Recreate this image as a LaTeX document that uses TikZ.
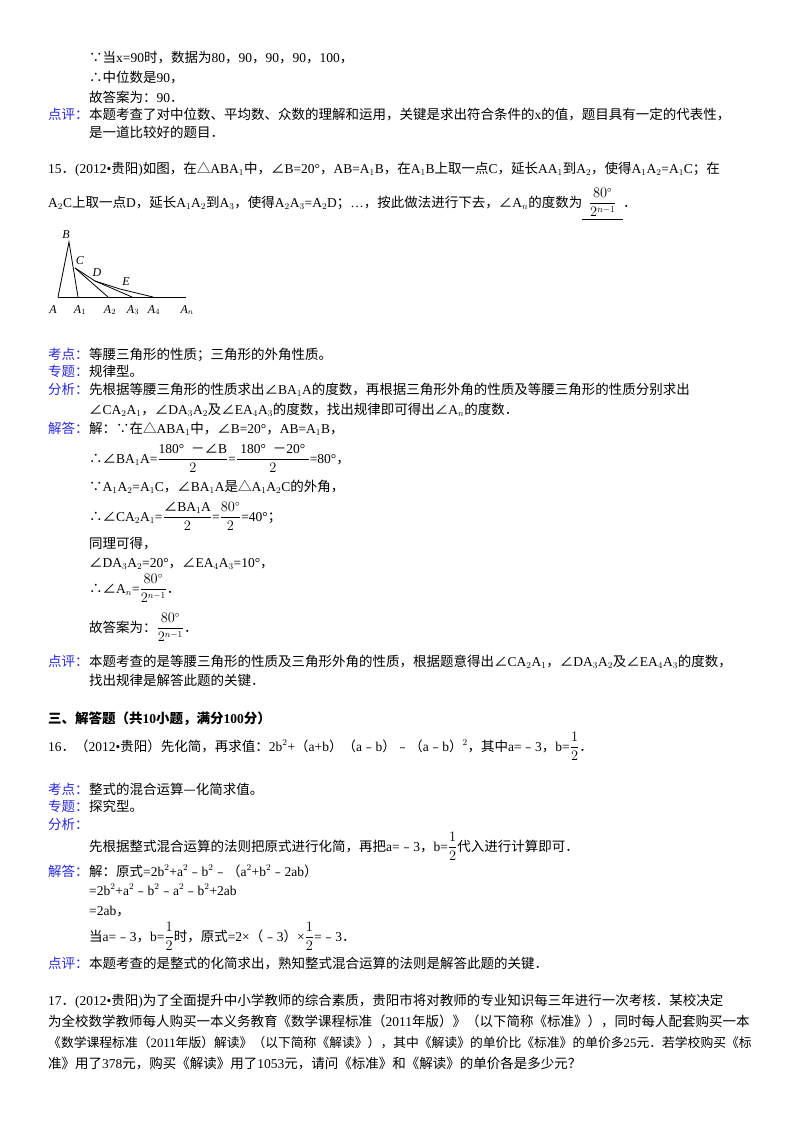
\documentclass[tikz,border=0pt]{standalone}
\usepackage{amsmath}
\usepackage{fontspec}
\setmainfont{Liberation Serif}
\newfontfamily\cjk{Noto Sans CJK SC}
\newfontfamily\latn{Liberation Serif}
\newXeTeXintercharclass\cjkclass
\newcount\cc
\def\setcls#1#2{\cc=#1\relax\loop\XeTeXcharclass\cc=\cjkclass\advance\cc by 1\ifnum\cc<#2\repeat}
\setcls{"2200}{"2300}
\setcls{"25A0}{"2600}
\setcls{"3000}{"9FFF}
\setcls{"FE30}{"FE70}
\setcls{"FF00}{"FFEF}
\XeTeXcharclass"2014=\cjkclass
\XeTeXinterchartoks 0 \cjkclass = {\cjk}
\XeTeXinterchartoks 4095 \cjkclass = {\cjk}
\XeTeXinterchartoks \cjkclass 0 = {\latn}
\XeTeXinterchartoks \cjkclass 4095 = {\latn}
\XeTeXinterchartokenstate=1
\definecolor{lab}{RGB}{40,40,220}
\tikzset{
 t/.style={anchor=base west,inner sep=0pt,font=\fontsize{13.5}{16}\selectfont},
 lb/.style={t,text=lab},
 fl/.style={font=\itshape\fontsize{12}{14}\selectfont,inner sep=0pt}
}
\begin{document}
\begin{tikzpicture}[x=1pt,y=-1pt]
\useasboundingbox (0,0) rectangle (800,1132);
\node[t] (l1) at (89,63) {∵当x=90时，数据为80，90，90，90，100，};
\node[t] (l2) at (89,82) {∴中位数是90，};
\node[t] (l3) at (89,102) {故答案为：90．};
\node[lb] (k0) at (48,119) {点评：};
\node[t] (l4) at (89,119) {本题考查了对中位数、平均数、众数的理解和运用，关键是求出符合条件的x的值，题目具有一定的代表性，};
\node[t] (l5) at (89,137) {是一道比较好的题目．};
\node[t] (q15a) at (48,173) {15．(2012•贵阳)如图，在△ABA$_1$中，∠B=20°，AB=A$_1$B，在A$_1$B上取一点C，延长AA$_1$到A$_2$，使得A$_1$A$_2$=A$_1$C；在};
\node[t] (q15b) at (48,207) {A$_2$C上取一点D，延长A$_1$A$_2$到A$_3$，使得A$_2$A$_3$=A$_2$D；…，按此做法进行下去，∠A$_n$的度数为\underline{\ \ $\dfrac{80^\circ}{2^{n-1}}$\ \ }．};
% figure
\coordinate (A) at (58,297); \coordinate (B) at (69,242); \coordinate (A1) at (78,297);
\coordinate (C) at (75,268); \coordinate (A2) at (108,297); \coordinate (D) at (95,281);
\coordinate (A3) at (132,297); \coordinate (E) at (120,289); \coordinate (A4) at (153,297);
\coordinate (An) at (186,297);
\draw[line width=0.8pt] (A) -- (B) -- (A1);
\draw[line width=0.8pt] (A) -- (An);
\draw[line width=0.8pt] (C) -- (A2);
\draw[line width=0.8pt] (C) -- (D) -- (A3);
\draw[line width=0.8pt] (D) -- (E) -- (A4);
\node[fl] (nB) at (66,235) {B};
\node[fl] (nC) at (80,261) {C};
\node[fl] (nD) at (97,273) {D};
\node[fl] (nE) at (126,282) {E};
\node[fl] (nA) at (53,310) {A};
\node[fl] (nA1) at (80,310) {A$_1$};
\node[fl] (nA2) at (110,310) {A$_2$};
\node[fl] (nA3) at (133,310) {A$_3$};
\node[fl] (nA4) at (154,310) {A$_4$};
\node[fl] (nAn) at (187,310) {A$_n$};
\node[lb] (k1) at (48,359) {考点：};
\node[t] (s1) at (89,359) {等腰三角形的性质；三角形的外角性质。};
\node[lb] (k2) at (48,376) {专题：};
\node[t] (s2) at (89,376) {规律型。};
\node[lb] (k3) at (48,394) {分析：};
\node[t] (s3) at (89,394) {先根据等腰三角形的性质求出∠BA$_1$A的度数，再根据三角形外角的性质及等腰三角形的性质分别求出};
\node[t] (s4) at (89,414) {∠CA$_2$A$_1$，∠DA$_3$A$_2$及∠EA$_4$A$_3$的度数，找出规律即可得出∠A$_n$的度数．};
\node[lb] (k4) at (48,433) {解答：};
\node[t] (s5) at (89,433) {解：∵在△ABA$_1$中，∠B=20°，AB=A$_1$B，};
\node[t] (s6) at (89,463) {∴∠BA$_1$A=$\dfrac{\mbox{180°\ \ －∠B}}{2}$=$\dfrac{\mbox{\ 180°\ \ －20°\ }}{2}$=80°，};
\node[t] (s7) at (89,491) {∵A$_1$A$_2$=A$_1$C，∠BA$_1$A是△A$_1$A$_2$C的外角，};
\node[t] (s8) at (89,521) {∴∠CA$_2$A$_1$=$\dfrac{\mbox{∠BA$_1$A}}{2}$=$\dfrac{80^\circ}{2}$=40°；};
\node[t] (s9) at (89,548) {同理可得，};
\node[t] (s10) at (89,567) {∠DA$_3$A$_2$=20°，∠EA$_4$A$_3$=10°，};
\node[t] (s11) at (89,593) {∴∠A$_n$=$\dfrac{80^\circ}{2^{n-1}}$．};
\node[t] (s12) at (89,632) {故答案为：$\dfrac{80^\circ}{2^{n-1}}$．};
\node[lb] (k5) at (48,666) {点评：};
\node[t] (s13) at (89,666) {本题考查的是等腰三角形的性质及三角形外角的性质，根据题意得出∠CA$_2$A$_1$，∠DA$_3$A$_2$及∠EA$_4$A$_3$的度数，};
\node[t] (s14) at (89,685) {找出规律是解答此题的关键．};
\node[t,font=\bfseries\fontsize{13.5}{16}\selectfont] (h3) at (48,723) {三、解答题（共10小题，满分100分）};
\node[t] (q16) at (48,751) {16．（2012•贵阳）先化简，再求值：2b$^2$+（a+b）（a﹣b）﹣（a﹣b）$^2$，其中a=﹣3，b=$\dfrac{1}{2}$．};
\node[lb] (k6) at (48,794) {考点：};
\node[t] (u1) at (89,794) {整式的混合运算—化简求值。};
\node[lb] (k7) at (48,811) {专题：};
\node[t] (u2) at (89,811) {探究型。};
\node[lb] (k8) at (48,829) {分析：};
\node[t] (u3) at (89,851) {先根据整式混合运算的法则把原式进行化简，再把a=﹣3，b=$\dfrac{1}{2}$代入进行计算即可．};
\node[lb] (k9) at (48,876) {解答：};
\node[t] (u4) at (89,876) {解：原式=2b$^2$+a$^2$﹣b$^2$﹣（a$^2$+b$^2$﹣2ab）};
\node[t] (u5) at (89,895) {=2b$^2$+a$^2$﹣b$^2$﹣a$^2$﹣b$^2$+2ab};
\node[t] (u6) at (89,915) {=2ab，};
\node[t] (u7) at (89,941) {当a=﹣3，b=$\dfrac{1}{2}$时，原式=2×（﹣3）×$\dfrac{1}{2}$=﹣3．};
\node[lb] (k10) at (48,968) {点评：};
\node[t] (u8) at (89,968) {本题考查的是整式的化简求出，熟知整式混合运算的法则是解答此题的关键．};
\node[t] (q17a) at (48,1005) {17．(2012•贵阳)为了全面提升中小学教师的综合素质，贵阳市将对教师的专业知识每三年进行一次考核．某校决定};
\node[t] (q17b) at (48,1026) {为全校数学教师每人购买一本义务教育《数学课程标准（2011年版）》（以下简称《标准》），同时每人配套购买一本};
\node[t,font=\fontsize{12.8}{16}\selectfont] (q17c) at (48,1047) {《数学课程标准（2011年版）解读》（以下简称《解读》），其中《解读》的单价比《标准》的单价多25元．若学校购买《标};
\node[t] (q17d) at (48,1068) {准》用了378元，购买《解读》用了1053元，请问《标准》和《解读》的单价各是多少元？};
\end{tikzpicture}
\end{document}
